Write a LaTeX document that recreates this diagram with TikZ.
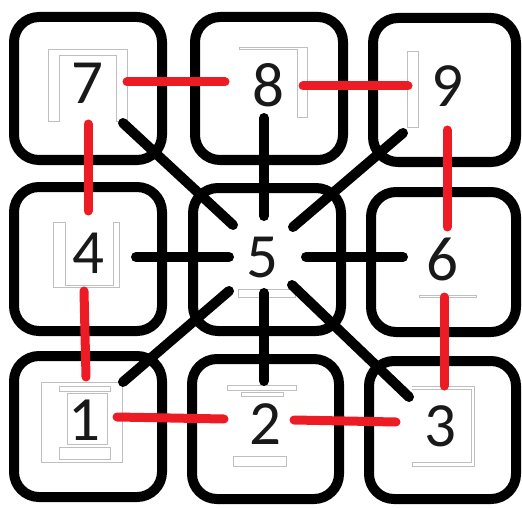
\documentclass[tikz,border=0pt]{standalone}
\usepackage{fontspec}
\setmainfont{Carlito}
\definecolor{redline}{HTML}{ED1C24}
\begin{document}
\begin{tikzpicture}[x=1pt,y=-1pt,
  cell/.style={draw=black, line width=10pt, rounded corners=25pt, inner sep=0pt},
  spoke/.style={draw=black, line width=10pt, line cap=round},
  ring/.style={draw=redline, line width=9pt, line cap=round},
  ghost/.style={draw=black!25, line width=0.9pt},
  num/.style={font=\fontsize{63}{63}\selectfont, inner sep=0pt, text=black!90}]
\useasboundingbox (0,0) rectangle (522,508);
% cells
\node[cell, minimum width=148pt, minimum height=143pt] (b7) at (88,88.5) {};
\node[cell, minimum width=148pt, minimum height=143pt] (b8) at (269,88.5) {};
\node[cell, minimum width=143pt, minimum height=144pt] (b9) at (444.5,90) {};
\node[cell, minimum width=148pt, minimum height=144pt] (b4) at (88,259) {};
\node[cell, minimum width=148pt, minimum height=143pt] (b5) at (267,259.5) {};
\node[cell, minimum width=145pt, minimum height=140pt] (b6) at (443.5,262) {};
\node[cell, minimum width=148pt, minimum height=141pt] (b1) at (88,426.5) {};
\node[cell, minimum width=147pt, minimum height=140pt] (b2) at (265.5,429) {};
\node[cell, minimum width=147pt, minimum height=138pt] (b3) at (442.5,430) {};
% faint leftover outlines
\draw[ghost] (48,121) -- (48,49) -- (127,49) -- (127,121) -- (116,121) -- (116,55) -- (59,55) -- (59,121) -- cycle;
\draw[ghost] (239,47) -- (307,47) -- (307,117) -- (297,117) -- (297,49) -- (239,49) -- cycle;
\draw[ghost] (407,51) rectangle (418,127);
\draw[ghost] (53,222) -- (53,287) -- (119,287) -- (119,222) -- (113,222) -- (113,285) -- (65,285) -- (65,222) -- cycle;
\draw[ghost] (238,289) rectangle (295,297);
\draw[ghost] (419,295) rectangle (476,297);
\draw[ghost] (41,382) rectangle (122,462);
\draw[ghost] (59,386) rectangle (110,391);
\draw[ghost] (67,393) rectangle (107,444);
\draw[ghost] (59,447) rectangle (110,459);
\draw[ghost] (227,385) rectangle (296,390);
\draw[ghost] (241,392) rectangle (283,396);
\draw[ghost] (233,456) rectangle (286,466);
\draw[ghost] (412,386) -- (474,386) -- (474,466) -- (412,466) -- (412,462) -- (471,462) -- (471,389) -- (412,389);
% connector end points
\coordinate (s7) at (123,123); \coordinate (e7) at (233,225);
\coordinate (s8) at (264,118); \coordinate (e8) at (264,216);
\coordinate (s9) at (403,133); \coordinate (e9) at (293,227);
\coordinate (s4) at (136,257); \coordinate (e4) at (229,257);
\coordinate (s6) at (403,257); \coordinate (e6) at (306,257);
\coordinate (s1) at (123,382); \coordinate (e1) at (229,291);
\coordinate (s2) at (264,381); \coordinate (e2) at (264,293);
\coordinate (s3) at (409,397); \coordinate (e3) at (292,285);
\coordinate (r78a) at (127,82); \coordinate (r78b) at (225,82);
\coordinate (r89a) at (303,86); \coordinate (r89b) at (408,86);
\coordinate (r96a) at (447,130); \coordinate (r96b) at (447,227);
\coordinate (r74a) at (88,124); \coordinate (r74b) at (88,211);
\coordinate (r41a) at (84,291); \coordinate (r41b) at (86,377);
\coordinate (r12a) at (117,417); \coordinate (r12b) at (224,419);
\coordinate (r23a) at (294,420); \coordinate (r23b) at (396,422);
\coordinate (r36a) at (444,297); \coordinate (r36b) at (444,386);
% spokes from 5
\foreach \k in {7,8,9,4,6,1,2,3} \draw[spoke] (s\k) -- (e\k);
% red ring
\draw[ring] (r78a) -- (r78b);
\draw[ring] (r89a) -- (r89b);
\draw[ring] (r96a) -- (r96b);
\draw[ring] (r74a) -- (r74b);
\draw[ring] (r41a) -- (r41b);
\draw[ring] (r12a) -- (r12b);
\draw[ring] (r23a) -- (r23b);
\draw[ring] (r36a) -- (r36b);
% digits
\node[num] (n7) at (87,83) {7};
\node[num] (n8) at (268,85) {8};
\node[num] (n9) at (447,86) {9};
\node[num] (n4) at (88,253) {4};
\node[num] (n5) at (262,258) {5};
\node[num] (n6) at (442,259) {6};
\node[num] (n1) at (84,420) {1};
\node[num] (n2) at (265,424) {2};
\node[num] (n3) at (440,426) {3};
\end{tikzpicture}
\end{document}
